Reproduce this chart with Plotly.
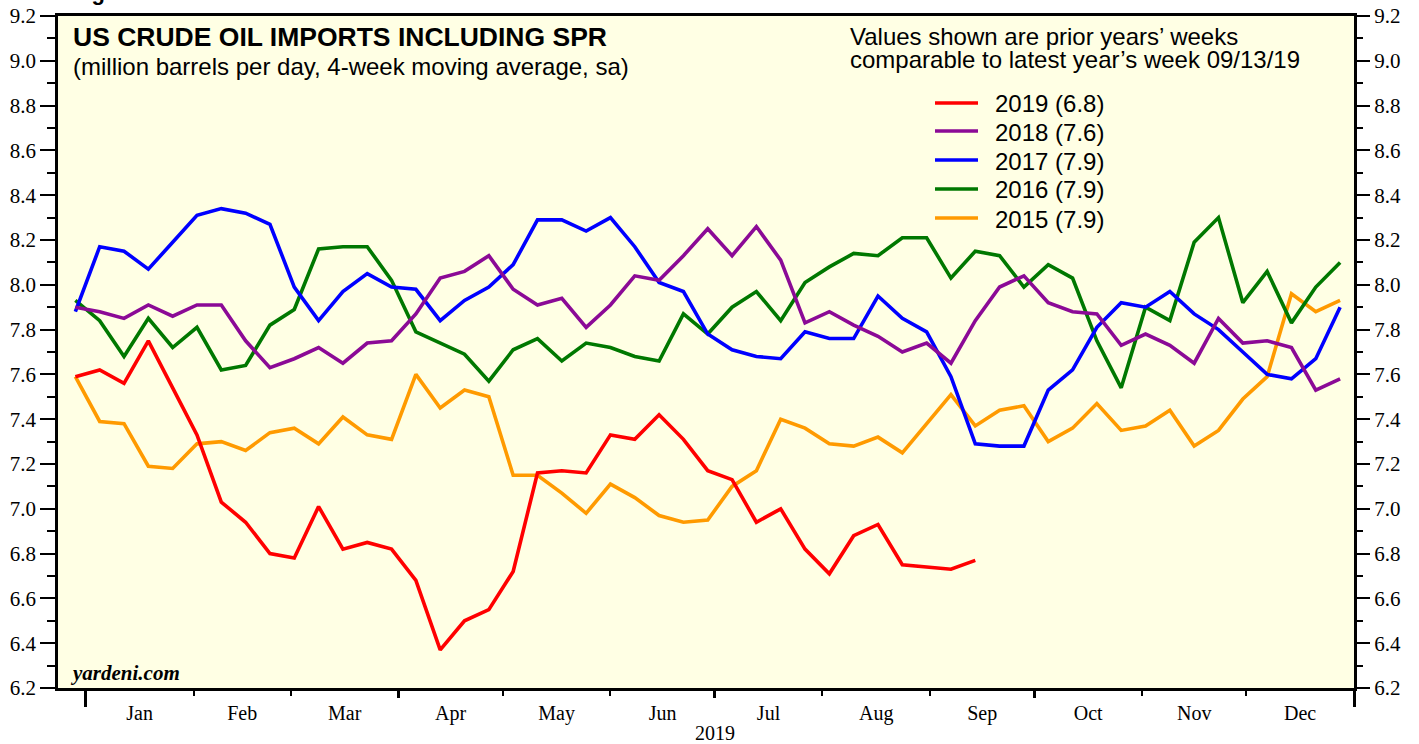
import pandas as pd
import plotly.graph_objects as go

# ---- data (weekly, 4-week moving average, million barrels per day) ----
weeks = pd.date_range("2018-12-29", periods=53, freq="7D")

y2019 = [7.59, 7.62, 7.56, 7.75, 7.54, 7.33, 7.03, 6.94, 6.80, 6.78, 7.01, 6.82, 6.85, 6.82, 6.68, 6.37,
         6.50, 6.55, 6.72, 7.16, 7.17, 7.16, 7.33, 7.31, 7.42, 7.31, 7.17, 7.13, 6.94, 7.00, 6.82,
         6.71, 6.88, 6.93, 6.75, 6.74, 6.73, 6.77]
y2018 = [7.90, 7.88, 7.85, 7.91, 7.86, 7.91, 7.91, 7.75, 7.63, 7.67, 7.72, 7.65, 7.74, 7.75, 7.87, 8.03,
         8.06, 8.13, 7.98, 7.91, 7.94, 7.81, 7.91, 8.04, 8.02, 8.13, 8.25, 8.13, 8.26, 8.11, 7.83,
         7.88, 7.82, 7.77, 7.70, 7.74, 7.65, 7.84, 7.99, 8.04, 7.92, 7.88, 7.87, 7.73, 7.78, 7.73, 7.65,
         7.85, 7.74, 7.75, 7.72, 7.53, 7.58]
y2017 = [7.88, 8.17, 8.15, 8.07, 8.19, 8.31, 8.34, 8.32, 8.27, 7.99, 7.84, 7.97, 8.05, 7.99, 7.98, 7.84,
         7.93, 7.99, 8.09, 8.29, 8.29, 8.24, 8.30, 8.17, 8.01, 7.97, 7.78, 7.71, 7.68, 7.67, 7.79,
         7.76, 7.76, 7.95, 7.85, 7.79, 7.59, 7.29, 7.28, 7.28, 7.53, 7.62, 7.81, 7.92, 7.90, 7.97, 7.87,
         7.80, 7.70, 7.60, 7.58, 7.67, 7.90]
y2016 = [7.93, 7.84, 7.68, 7.85, 7.72, 7.81, 7.62, 7.64, 7.82, 7.89, 8.16, 8.17, 8.17, 8.02, 7.79, 7.74,
         7.69, 7.57, 7.71, 7.76, 7.66, 7.74, 7.72, 7.68, 7.66, 7.87, 7.78, 7.90, 7.97, 7.84, 8.01,
         8.08, 8.14, 8.13, 8.21, 8.21, 8.03, 8.15, 8.13, 7.99, 8.09, 8.03, 7.75, 7.54, 7.90, 7.84, 8.19,
         8.30, 7.92, 8.06, 7.83, 7.99, 8.10]
y2015 = [7.59, 7.39, 7.38, 7.19, 7.18, 7.29, 7.30, 7.26, 7.34, 7.36, 7.29, 7.41, 7.33, 7.31, 7.60, 7.45,
         7.53, 7.50, 7.15, 7.15, 7.07, 6.98, 7.11, 7.05, 6.97, 6.94, 6.95, 7.10, 7.17, 7.40, 7.36,
         7.29, 7.28, 7.32, 7.25, 7.38, 7.51, 7.37, 7.44, 7.46, 7.30, 7.36, 7.47, 7.35, 7.37, 7.44, 7.28,
         7.35, 7.49, 7.59, 7.96, 7.88, 7.93]

series_names = ["2015 (7.9)", "2016 (7.9)", "2017 (7.9)", "2018 (7.6)", "2019 (6.8)"]
series_values = [y2015, y2016, y2017, y2018, y2019]
series_colors = ["#FF9A00", "#007800", "#0000FF", "#8B0A96", "#FF0000"]

y_range = [6.2, 9.2]
x_range = ["2018-12-24", "2020-01-01"]

fig = go.Figure()
for name, vals, col in zip(series_names, series_values, series_colors):
    fig.add_trace(go.Scatter(x=weeks[:len(vals)], y=vals, mode="lines", name=name,
                             line=dict(color=col, width=3.6), showlegend=False))

# empty helper traces so the mirrored right axis and the extra tick axes get drawn
for xa, ya in [("x", "y2"), ("x2", "y"), ("x3", "y")]:
    fig.add_trace(go.Scatter(x=[], y=[], xaxis=xa, yaxis=ya, mode="lines",
                             showlegend=False, hoverinfo="skip"))

serif = "Liberation Serif, Times New Roman, serif"
sans = "Liberation Sans, Arial, sans-serif"
tickfont = dict(family=serif, size=21, color="black")

yax_common = dict(range=y_range, tickmode="linear", tick0=6.2, dtick=0.2, tickformat=".1f",
                  ticks="outside", ticklen=15, tickwidth=2, tickcolor="black",
                  minor=dict(dtick=0.1, ticks="outside", ticklen=8, tickwidth=2, tickcolor="black"),
                  showgrid=False, zeroline=False, tickfont=tickfont, fixedrange=True,
                  automargin=False)

fig.update_layout(
    width=1419, height=744,
    margin=dict(l=58, r=65, t=16, b=56, autoexpand=False),
    paper_bgcolor="white",
    plot_bgcolor="#FFFFE4",
    showlegend=False,
    xaxis=dict(type="date", range=x_range, tickmode="linear", tick0="2019-01-01", dtick="M1",
               ticklabelmode="period", tickformat="%b", ticks="outside", ticklen=5, tickwidth=2,
               tickcolor="black", showgrid=False, zeroline=False,
               tickfont=dict(family=serif, size=20, color="black"),
               showline=True, linewidth=2.5, linecolor="black", mirror=True, fixedrange=True,
               automargin=False),
    xaxis2=dict(type="date", range=x_range, overlaying="x", anchor="y", side="bottom",
                tickmode="linear", tick0="2019-01-01", dtick="M3", ticks="outside", ticklen=9,
                tickwidth=2.5, tickcolor="black", showticklabels=False, showgrid=False,
                zeroline=False, showline=False, automargin=False, fixedrange=True),
    xaxis3=dict(type="date", range=x_range, overlaying="x", anchor="y", side="bottom",
                tickmode="linear", tick0="2019-01-01", dtick="M12", ticks="outside", ticklen=18,
                tickwidth=3, tickcolor="black", showticklabels=False, showgrid=False,
                zeroline=False, showline=False, automargin=False, fixedrange=True),
    yaxis=dict(**yax_common, side="left", showline=True, linewidth=2.5, linecolor="black",
               mirror=True),
    yaxis2=dict(**yax_common, side="right", overlaying="y", anchor="x", showline=False),
)

# plot-area pixel helpers for text placement (paper coordinates)
L, R, T, B = 58, 1354, 16, 688
def px(xp):
    return (xp - L) / (R - L)
def py(yp):
    return (B - yp) / (B - T)

annotations = [
    dict(text="<b>US CRUDE OIL IMPORTS INCLUDING SPR</b>", x=px(71), y=py(37), xanchor="left",
         yanchor="middle", font=dict(family=sans, size=26.5, color="black")),
    dict(text="(million barrels per day, 4-week moving average, sa)", x=px(71), y=py(67),
         xanchor="left", yanchor="middle", font=dict(family=sans, size=24, color="black")),
    dict(text="Values shown are prior years\u2019 weeks", x=px(848), y=py(36), xanchor="left",
         yanchor="middle", font=dict(family=sans, size=24, color="black")),
    dict(text="comparable to latest year\u2019s week 09/13/19", x=px(848), y=py(60), xanchor="left",
         yanchor="middle", font=dict(family=sans, size=24, color="black")),
    dict(text="<b><i>yardeni.com</i></b>", x=px(68), y=py(673), xanchor="left", yanchor="middle",
         font=dict(family=serif, size=21, color="black")),
    dict(text="2019", x="2019-07-01", xref="x", y=py(733), yanchor="middle", xanchor="center",
         font=dict(family=serif, size=20, color="black")),
    dict(text="<b>Figure 1.</b>", x=px(70), y=py(7), yanchor="bottom", xanchor="left",
         font=dict(family=sans, size=22, color="black")),
]

# custom legend (order: 2019 at top)
legend_rows = [103, 131, 160, 189, 218]
shapes = []
for row_y, name, col in zip(legend_rows, series_names[::-1], series_colors[::-1]):
    shapes.append(dict(type="line", xref="paper", yref="paper", x0=px(935), x1=px(978),
                       y0=py(row_y), y1=py(row_y), line=dict(color=col, width=3.6)))
    annotations.append(dict(text=name, x=px(993), y=py(row_y + 1), xanchor="left",
                            yanchor="middle", font=dict(family=sans, size=24, color="black")))

for a in annotations:
    a.setdefault("xref", "paper")
    a.setdefault("yref", "paper")
    a["showarrow"] = False
fig.update_layout(annotations=annotations, shapes=shapes)

fig.write_html("out.html", config={"displayModeBar": False},
               post_script="document.body.style.margin='0';document.body.style.padding='0';")
